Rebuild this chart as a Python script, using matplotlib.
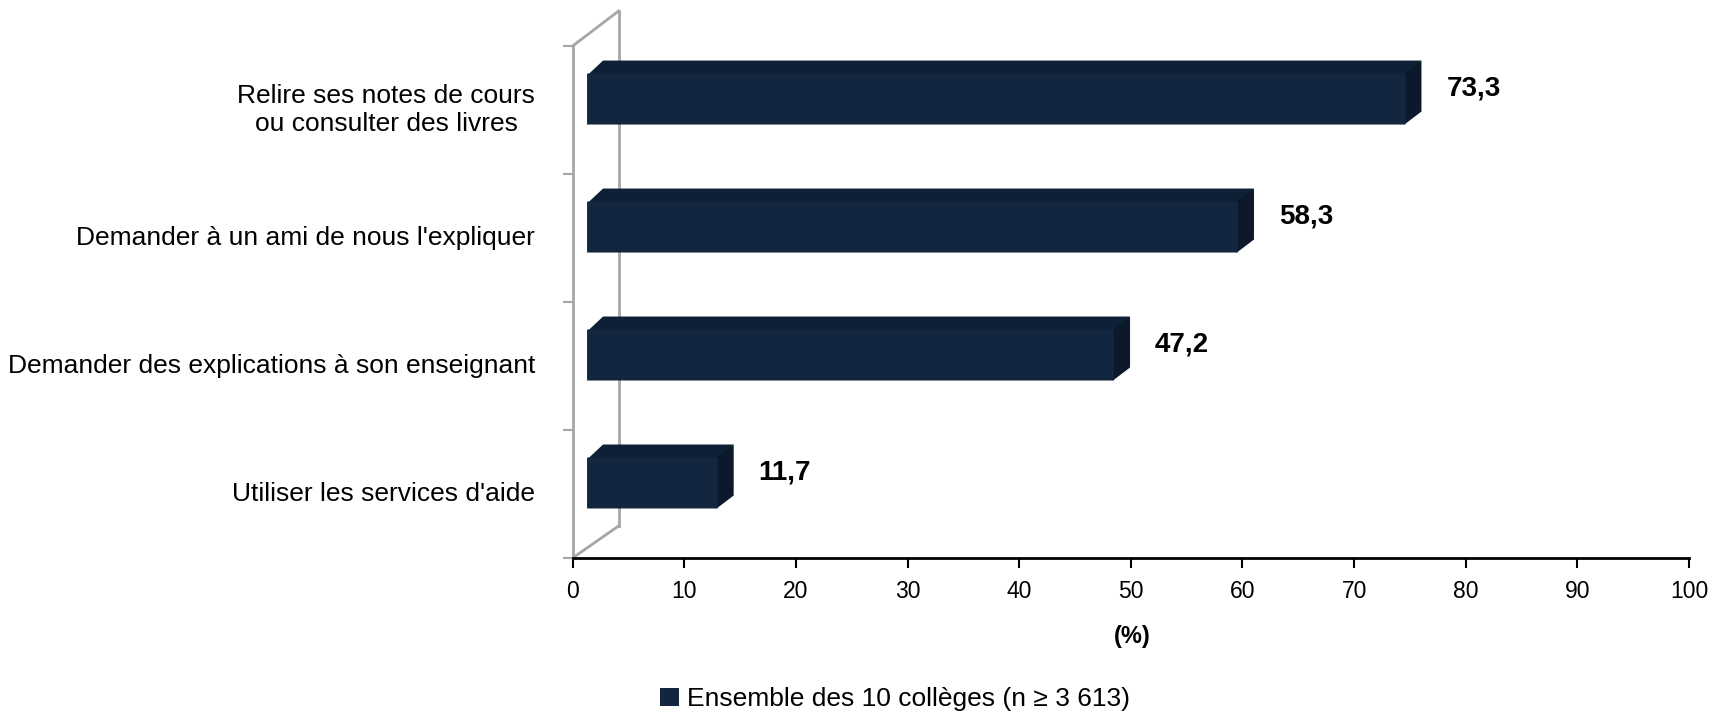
import matplotlib
matplotlib.use("Agg")
import matplotlib.pyplot as plt
from matplotlib.patches import Polygon, Rectangle, Patch

plt.rcParams['font.family'] = ['Liberation Sans', 'DejaVu Sans']

categories = ["Relire ses notes de cours\nou consulter des livres",
              "Demander à un ami de nous l'expliquer",
              "Demander des explications à son enseignant",
              "Utiliser les services d'aide"]
values = [73.3, 58.3, 47.2, 11.7]
value_labels = ["73,3", "58,3", "47,2", "11,7"]
x_ticks = [0, 10, 20, 30, 40, 50, 60, 70, 80, 90, 100]
legend_label = "Ensemble des 10 collèges (n ≥ 3 613)"

front_col = "#13263f"
top_col = "#0f1f35"
side_col = "#0c192b"
wall_col = "#a6a6a6"

fig = plt.figure(figsize=(17.23, 7.14), dpi=100)
ax = fig.add_axes([0.3323, 0.2185, 0.648, 0.717])
ax.set_xlim(0, 100)
ax.set_ylim(0, 4)

# pixel -> data conversions
px_x = 1116.5 / 100
px_y = 512 / 4

x_off = 14.5 / px_x
ddx = 16 / px_x
ddy = 13 / px_y
half_h = 25.5 / px_y
y_shift = 11 / px_y
ov = 2 / px_y  # small overlap so no seam shows

# 3D wall (side)
wdx = 46 / px_x
ax.plot([0, wdx], [4, 4 + 35 / px_y], color=wall_col, lw=2, clip_on=False, zorder=1)
ax.plot([0, wdx], [0, 32 / px_y], color=wall_col, lw=2, clip_on=False, zorder=1)
ax.plot([wdx, wdx], [32 / px_y, 4 + 35 / px_y], color=wall_col, lw=2, clip_on=False, zorder=1)

n = len(categories)
for i, (v, lab) in enumerate(zip(values, value_labels)):
    yc = n - 0.5 - i + y_shift
    y0, y1 = yc - half_h, yc + half_h
    x0, x1 = x_off, x_off + v
    ax.add_patch(Polygon([(x0, y1 - ov), (x1, y1 - ov), (x1 + ddx, y1 + ddy), (x0 + ddx, y1 + ddy)],
                         closed=True, facecolor=top_col, edgecolor='none', snap=False, zorder=3))
    ax.add_patch(Polygon([(x1 - 0.1, y0), (x1 - 0.1, y1), (x1 + ddx, y1 + ddy), (x1 + ddx, y0 + ddy)],
                         closed=True, facecolor=side_col, edgecolor='none', snap=False, zorder=3))
    ax.add_patch(Rectangle((x0, y0), v, y1 - y0, facecolor=front_col, edgecolor='none',
                           snap=False, zorder=4))
    ax.text(x1 + ddx + 25 / px_x, yc + 11 / px_y, lab, fontsize=20, fontweight='bold',
            ha='left', va='center', zorder=5)
    ax.text(-37.5 / px_x, n - 0.5 - i, categories[i], fontsize=19, ha='right', va='center',
            multialignment='center', clip_on=False)

ax.set_xticks(x_ticks)
ax.set_xticklabels([str(t) for t in x_ticks], fontsize=16.5)
ax.set_yticks(range(n + 1))
ax.set_yticklabels([])
ax.tick_params(axis='x', length=7, width=1.5, color='black', pad=9)
ax.tick_params(axis='y', length=7, width=1.5, color=wall_col)
for s in ['top', 'right']:
    ax.spines[s].set_visible(False)
ax.spines['left'].set_color(wall_col)
ax.spines['left'].set_linewidth(2)
ax.spines['bottom'].set_color('black')
ax.spines['bottom'].set_linewidth(2)

fig.text(1132 / 1723, 1 - 637 / 714, "(%)", fontsize=17, fontweight='bold', ha='center', va='center')

fig.legend(handles=[Patch(facecolor=front_col, edgecolor='none', label=legend_label)],
           loc='center', bbox_to_anchor=(895 / 1723, 1 - 699 / 714), frameon=False,
           fontsize=19, handlelength=0.7, handleheight=0.7, handletextpad=0.3)

fig.savefig("out.png", dpi=100)
